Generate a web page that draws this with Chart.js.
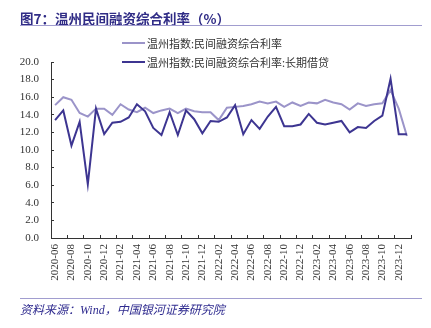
<!DOCTYPE html>
<html>
<head>
<meta charset="utf-8">
<title>温州民间融资综合利率</title>
<script src="https://cdn.jsdelivr.net/npm/chart.js@4.4.1/dist/chart.umd.min.js"></script>
<style>
  html, body { margin: 0; padding: 0; background: #fff; }
  #wrap { position: relative; width: 431px; height: 328px; overflow: hidden; }
  #wrap canvas { position: absolute; left: 0; top: 0; }
  .title {
    position: absolute; left: 20px; top: 8px; line-height: 16px;
    font: bold 13.5px "Noto Sans CJK SC", sans-serif; color: #302c86; white-space: nowrap;
  }
  .rule { position: absolute; left: 20px; width: 402px; height: 0; border-top: 1px solid #a19dcf; }
  .legend {
    position: absolute; left: 122px; top: 33px;
    font: 11px "Noto Sans CJK SC", sans-serif; color: #333;
  }
  .legend .item { height: 19.5px; display: flex; align-items: center; white-space: nowrap; }
  .legend .swatch { display: inline-block; width: 23px; height: 2px; margin-right: 2px; }
  .source {
    position: absolute; left: 20px; top: 300px; line-height: 14px;
    font: italic 12px "Liberation Serif", "Noto Sans CJK SC", serif; color: #2f2b8f; white-space: nowrap;
  }
</style>
</head>
<body>
<div id="wrap">
  <canvas id="rateChart" width="431" height="328"></canvas>
  <div class="title">图7：温州民间融资综合利率（%）</div>
  <div class="rule" style="top:25px"></div>
  <div class="legend" id="legend"></div>
  <div class="rule" style="top:298px"></div>
  <div class="source">资料来源：Wind，中国银河证券研究院</div>
</div>
<script>
const months = [
  "2020-06", "2020-07", "2020-08", "2020-09", "2020-10", "2020-11", "2020-12",
  "2021-01", "2021-02", "2021-03", "2021-04", "2021-05", "2021-06", "2021-07",
  "2021-08", "2021-09", "2021-10", "2021-11", "2021-12", "2022-01", "2022-02",
  "2022-03", "2022-04", "2022-05", "2022-06", "2022-07", "2022-08", "2022-09",
  "2022-10", "2022-11", "2022-12", "2023-01", "2023-02", "2023-03", "2023-04",
  "2023-05", "2023-06", "2023-07", "2023-08", "2023-09", "2023-10", "2023-11",
  "2023-12", "2024-01"
];

// 综合利率
const compositeRate = [
  15.1, 16.0, 15.7, 14.2, 13.8, 14.7, 14.7, 14.0, 15.2, 14.6, 14.3,
  14.8, 14.2, 14.5, 14.7, 14.2, 14.7, 14.4, 14.3, 14.3, 13.4, 14.8,
  14.9, 15.0, 15.2, 15.5, 15.3, 15.5, 14.9, 15.4, 15.0, 15.4, 15.3,
  15.7, 15.4, 15.2, 14.6, 15.3, 15.0, 15.2, 15.3, 16.8, 14.7, 11.6
];

// 综合利率:长期借贷
const longTermRate = [
  13.4, 14.5, 10.5, 13.2, 6.1, 14.7, 11.8, 13.1, 13.2, 13.7, 15.2,
  14.4, 12.5, 11.7, 14.3, 11.7, 14.5, 13.5, 11.9, 13.3, 13.2, 13.7,
  15.1, 11.8, 13.4, 12.4, 13.8, 14.9, 12.7, 12.7, 12.9, 14.1, 13.1,
  12.9, 13.1, 13.3, 12.0, 12.6, 12.5, 13.3, 13.9, 18.1, 11.8, 11.8
];

const seriesNames = ["温州指数:民间融资综合利率", "温州指数:民间融资综合利率:长期借贷"];
const seriesColors = ["#9b94c9", "#3d3591"];

const axisColor = "#333";
const tickFont = { family: "'Liberation Serif', 'Times New Roman', serif", size: 11 };

const chart = new Chart(document.getElementById("rateChart"), {
  type: "line",
  data: {
    labels: months,
    datasets: [
      {
        label: seriesNames[0],
        data: compositeRate,
        borderColor: seriesColors[0],
        backgroundColor: seriesColors[0],
        borderWidth: 2,
        pointRadius: 0,
        tension: 0,
        order: 1,
      },
      {
        label: seriesNames[1],
        data: longTermRate,
        borderColor: seriesColors[1],
        backgroundColor: seriesColors[1],
        borderWidth: 2,
        pointRadius: 0,
        tension: 0,
        order: 0,
      },
    ],
  },
  options: {
    responsive: false,
    devicePixelRatio: 1,
    animation: false,
    layout: { padding: { left: 0, right: 20, top: 62, bottom: 40 } },
    plugins: {
      legend: { display: false },
      tooltip: { enabled: false },
    },
    scales: {
      x: {
        offset: true,
        grid: {
          offset: true,
          drawOnChartArea: false,
          drawTicks: true,
          tickLength: -3,
          // tick marks every two months, on the month boundaries
          color: (ctx) => (ctx.index === undefined || ctx.index % 2 === 0 ? axisColor : "rgba(0,0,0,0)"),
        },
        border: { display: true, color: axisColor, width: 1 },
        ticks: {
          autoSkip: false,
          minRotation: 90,
          maxRotation: 90,
          padding: 9,
          color: axisColor,
          font: tickFont,
          callback: (value, index) => (index % 2 === 0 ? months[index] : ""),
        },
        afterFit: (scale) => { scale.height = 50; },
      },
      y: {
        min: 0,
        max: 20,
        grid: {
          drawOnChartArea: false,
          drawTicks: true,
          tickLength: -3,
          color: axisColor,
        },
        border: { display: true, color: axisColor, width: 1 },
        ticks: {
          stepSize: 2,
          padding: 15,
          color: axisColor,
          font: tickFont,
          callback: (value) => value.toFixed(1),
        },
        afterFit: (scale) => { scale.width = 51; },
      },
    },
  },
});

// legend built from the chart's own datasets
const legendBox = document.getElementById("legend");
chart.data.datasets.forEach((ds) => {
  const item = document.createElement("div");
  item.className = "item";
  const swatch = document.createElement("span");
  swatch.className = "swatch";
  swatch.style.background = ds.borderColor;
  const text = document.createElement("span");
  text.textContent = ds.label;
  item.appendChild(swatch);
  item.appendChild(text);
  legendBox.appendChild(item);
});
</script>
</body>
</html>
